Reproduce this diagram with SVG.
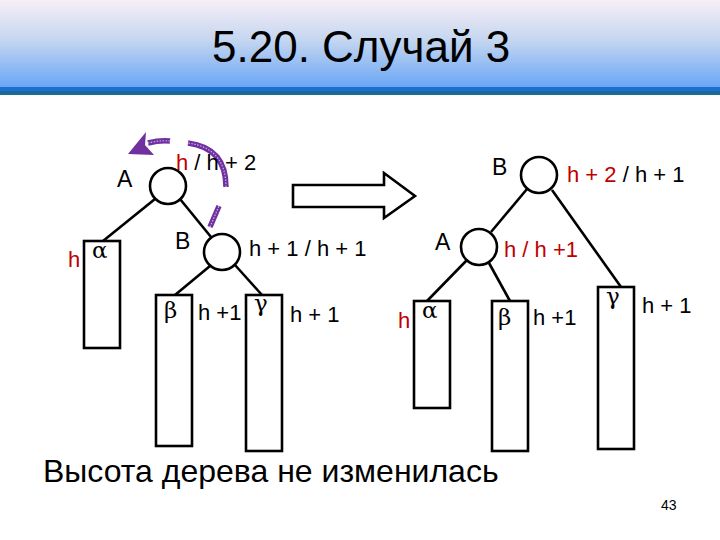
<svg xmlns="http://www.w3.org/2000/svg" width="720" height="540" viewBox="0 0 720 540">
<defs>
<linearGradient id="hdr" x1="0" y1="0" x2="0" y2="1">
<stop offset="0" stop-color="#f7eef6"/>
<stop offset="0.45" stop-color="#c6d7f0"/>
<stop offset="1" stop-color="#6aa6f6"/>
</linearGradient>
<style>
.t{font-family:"Liberation Sans",Arial,sans-serif;fill:#000}
.g{font-family:"DejaVu Serif","Liberation Serif",serif;fill:#000;font-size:23px}
.lbl{font-size:22px}
.node{font-size:23px}
.red{fill:#c00000}
.edge{stroke:#000;stroke-width:2.6;fill:none}
.box{stroke:#000;stroke-width:2.6;fill:#fff}
.circ{stroke:#000;stroke-width:2.6;fill:#fff}
.arc{stroke:#7030a0;stroke-width:5.5;fill:none}
.arcin{stroke:#c7b0e2;stroke-width:1.2;stroke-dasharray:1.5 1.5;fill:none}
</style>
</defs>
<rect x="0" y="0" width="720" height="540" fill="#fff"/>
<rect x="0" y="0" width="720" height="87" fill="url(#hdr)"/>
<rect x="0" y="87" width="720" height="4" fill="#1d6fd1"/>
<rect x="0" y="91" width="720" height="4" fill="#1a6a9a"/>
<text class="t" x="212" y="62" font-size="44">5.20. Случай 3</text>

<g id="connectors">
<line class="edge" x1="155" y1="199" x2="103" y2="241"/>
<line class="edge" x1="180" y1="199" x2="211" y2="237"/>
<line class="edge" x1="210" y1="266" x2="175" y2="295"/>
<line class="edge" x1="235" y1="265" x2="262" y2="295"/>
<line class="edge" x1="527" y1="189" x2="491" y2="232"/>
<line class="edge" x1="552" y1="190" x2="621" y2="287"/>
<line class="edge" x1="467" y1="260" x2="427" y2="301"/>
<line class="edge" x1="489" y1="263" x2="510" y2="301"/>
</g>

<g id="rotation-arrow">
<path class="arc" d="M210,227 L219,206"/>
<path class="arc" d="M226,187 Q226,148 188,143"/>
<path class="arc" d="M170,141 Q160,140 148,143"/>
<path class="arcin" d="M210,227 L219,206"/>
<path class="arcin" d="M226,187 Q226,148 188,143"/>
<path class="arcin" d="M170,141 Q160,140 148,143"/>
<polygon points="128,154 146,132 145,145 154,155" fill="#7030a0"/>
</g>

<g id="transform-arrow">
<polygon points="293,185 384,185 384,173 415,196 384,218 384,207 293,207" fill="#fff" stroke="#000" stroke-width="2.6" stroke-linejoin="miter"/>
</g>

<g id="left-A">
<circle class="circ" cx="168" cy="186" r="18"/>
<text class="t node" x="117" y="187">A</text>
<text class="t lbl" x="176" y="170"><tspan class="red">h</tspan> / h + 2</text>
</g>
<g id="left-B">
<circle class="circ" cx="222" cy="252" r="18"/>
<text class="t node" x="175" y="249">B</text>
<text class="t lbl" x="249" y="256">h + 1 / h + 1</text>
</g>
<g id="left-alpha">
<rect class="box" x="84" y="241" width="36" height="107"/>
<text class="g" x="92" y="258">α</text>
<text class="t lbl red" x="68" y="267">h</text>
</g>
<g id="left-beta">
<rect class="box" x="156" y="295" width="36" height="151"/>
<text class="g" x="164" y="318">β</text>
<text class="t lbl" x="198" y="320">h +1</text>
</g>
<g id="left-gamma">
<rect class="box" x="246" y="295" width="36" height="156"/>
<text class="g" x="254" y="311">γ</text>
<text class="t lbl" x="290" y="322">h + 1</text>
</g>

<g id="right-B">
<circle class="circ" cx="539" cy="175" r="18"/>
<text class="t node" x="492" y="175">B</text>
<text class="t lbl" x="567" y="182"><tspan class="red">h + 2</tspan> / h + 1</text>
</g>
<g id="right-A">
<circle class="circ" cx="479" cy="247" r="18"/>
<text class="t node" x="435" y="250">A</text>
<text class="t lbl red" x="504" y="257">h / h +1</text>
</g>
<g id="right-alpha">
<rect class="box" x="414" y="301" width="36" height="107"/>
<text class="g" x="422" y="318">α</text>
<text class="t lbl red" x="398" y="328">h</text>
</g>
<g id="right-beta">
<rect class="box" x="492" y="301" width="36" height="150"/>
<text class="g" x="498" y="325">β</text>
<text class="t lbl" x="533" y="325">h +1</text>
</g>
<g id="right-gamma">
<rect class="box" x="598" y="287" width="36" height="162"/>
<text class="g" x="606" y="304">γ</text>
<text class="t lbl" x="642" y="313">h + 1</text>
</g>

<text class="t" x="43" y="482" font-size="32">Высота дерева не изменилась</text>
<text class="t" x="661" y="510" font-size="14">43</text>
</svg>
